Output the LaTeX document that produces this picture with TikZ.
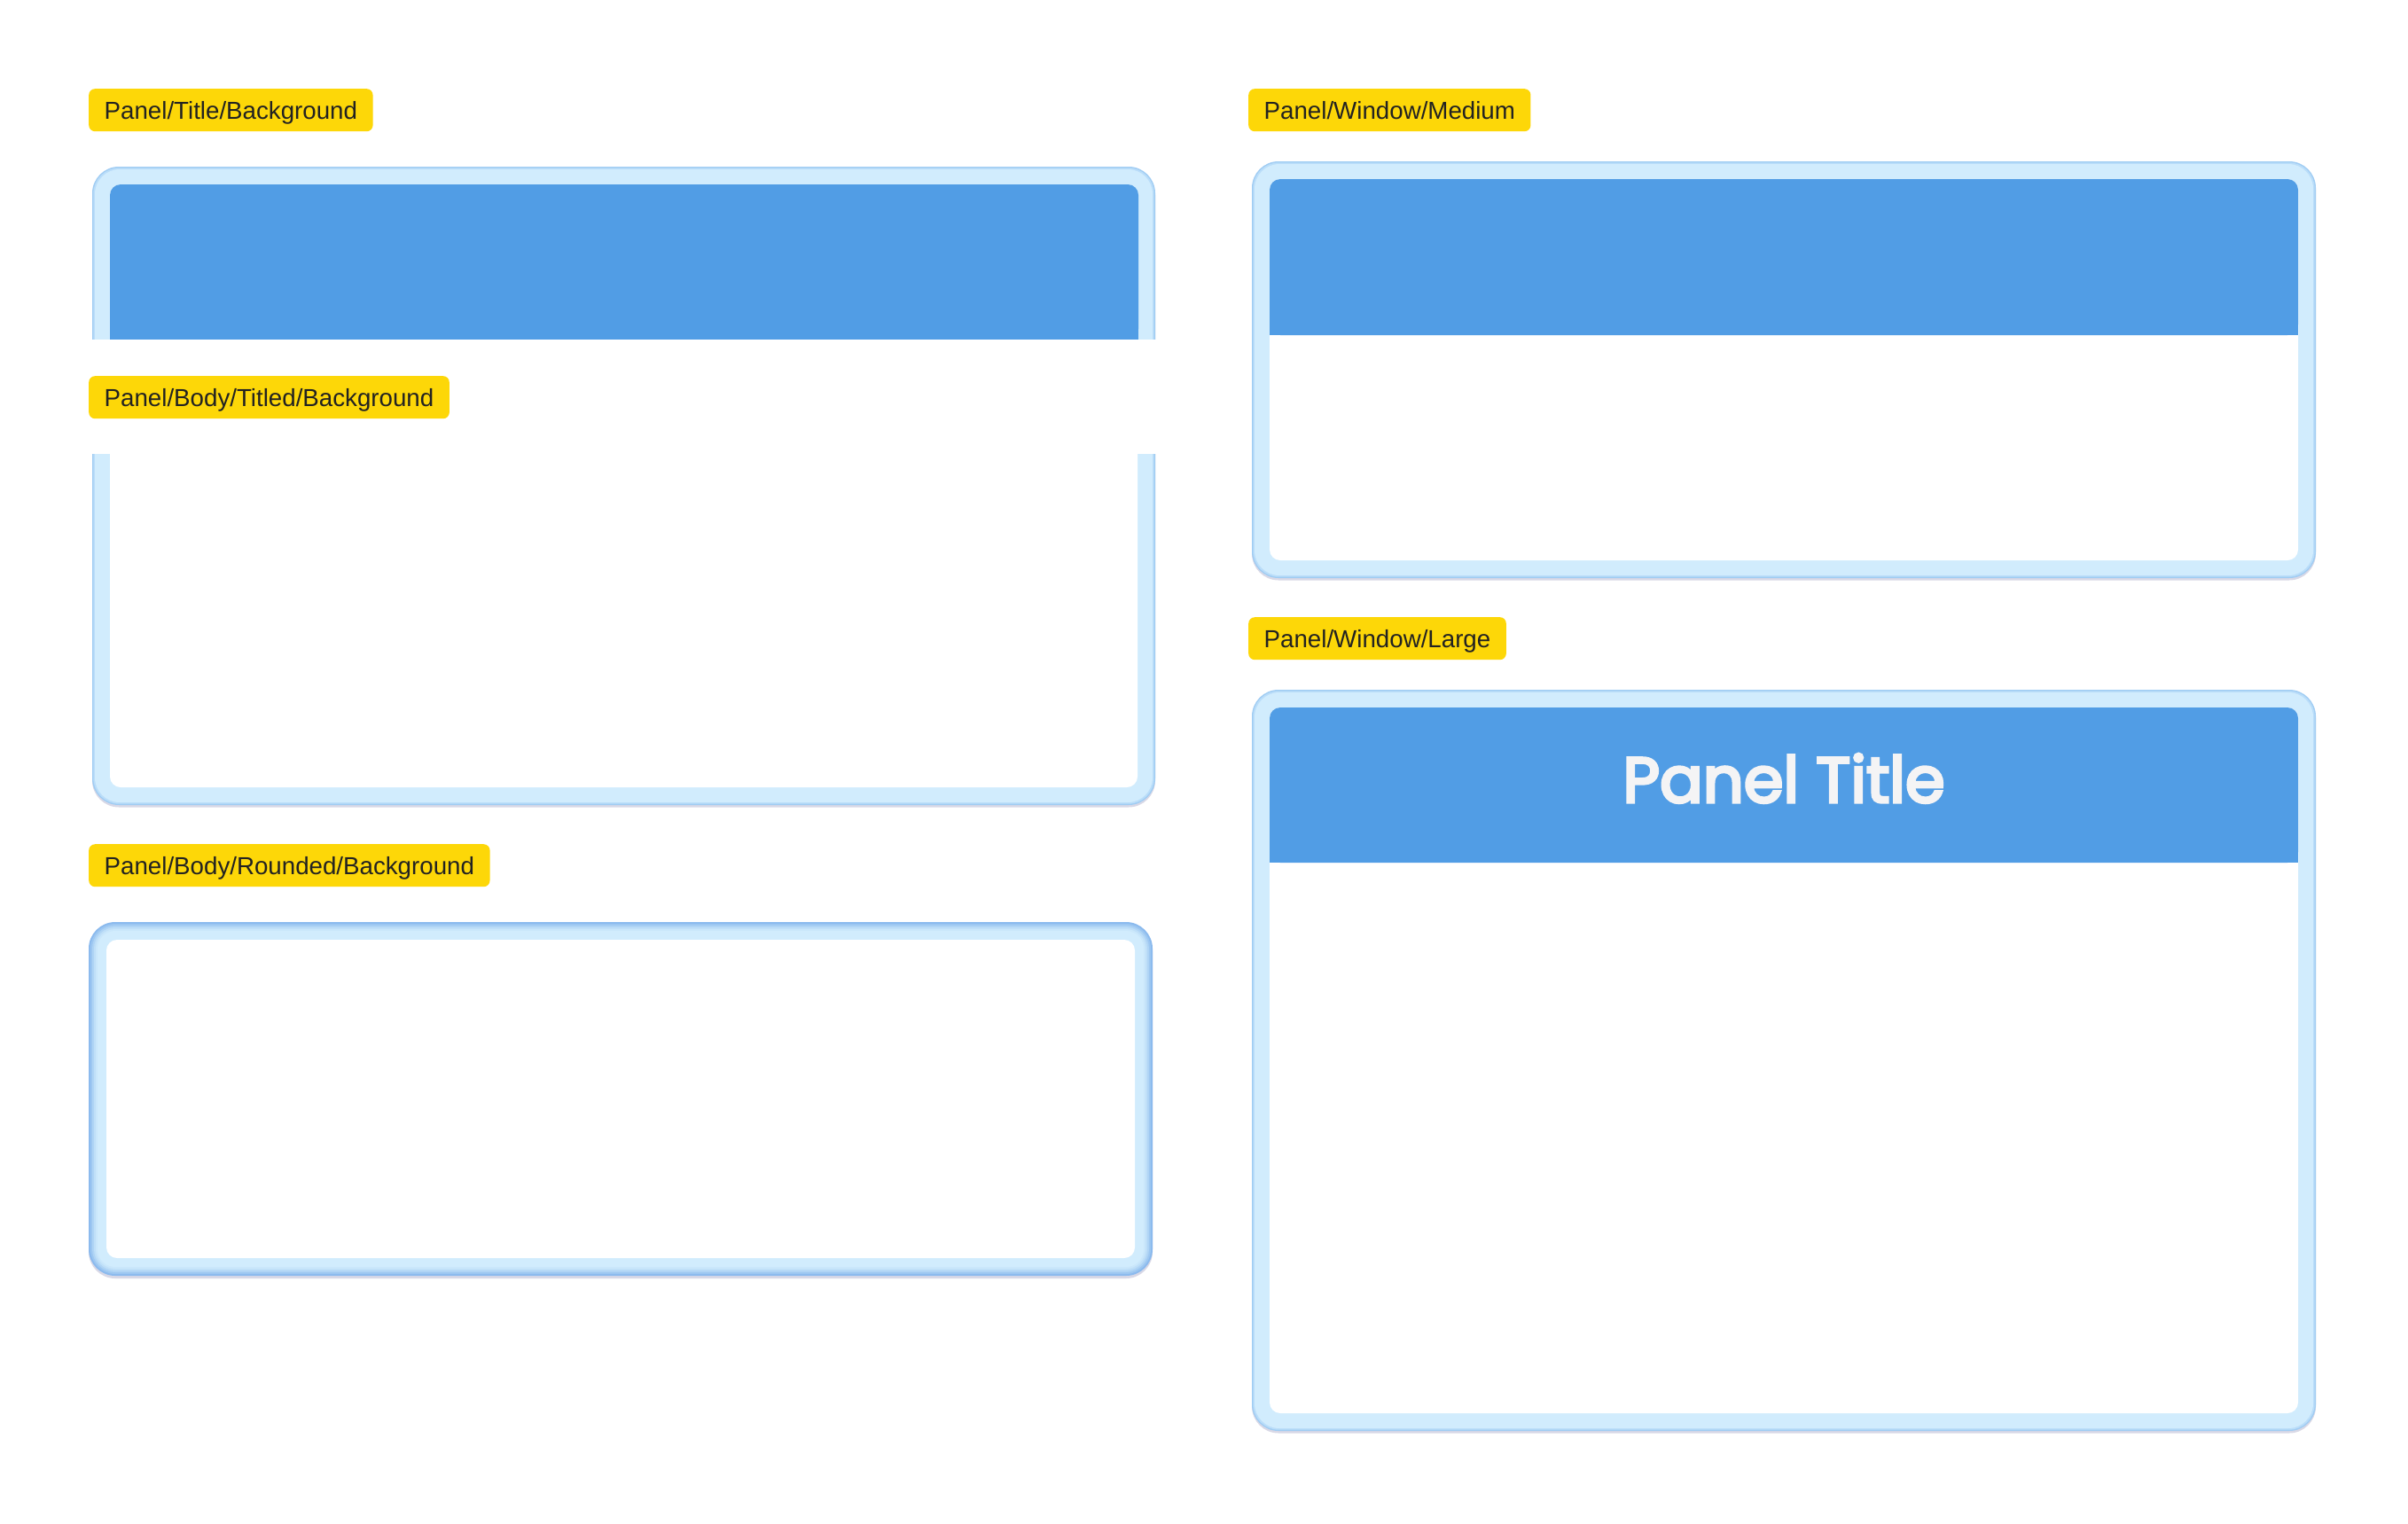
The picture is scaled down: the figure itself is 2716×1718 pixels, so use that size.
\documentclass[tikz,border=0pt]{standalone}
\usepackage{fontspec}
\setmainfont{Liberation Sans}
\newfontfamily\titlefont{Poppins}[FakeBold=4.5]
\definecolor{tagyellow}{HTML}{FDD708}
\definecolor{tagtext}{HTML}{222222}
\definecolor{titleblue}{HTML}{519DE5}
\definecolor{borderc}{HTML}{D1ECFD}
\definecolor{edgec}{HTML}{9FCCF3}
\definecolor{edgemid}{HTML}{BADDF9}
\definecolor{shadowc}{HTML}{D8D8E6}
\definecolor{titletext}{HTML}{F4F4F5}
\definecolor{gA}{HTML}{8BBAEE}
\definecolor{gB}{HTML}{9DC7F1}
\definecolor{gC}{HTML}{AFD4F5}
\definecolor{gD}{HTML}{BFDFF8}
\definecolor{gE}{HTML}{CAE7FB}
\newcommand\panelframe[4]{%
  \fill[shadowc, rounded corners=30pt] (#1,#2+2.5) rectangle (#3,#4+2.5);
  \fill[edgec, rounded corners=30pt] (#1,#2) rectangle (#3,#4);
  \fill[edgemid, rounded corners=29pt] (#1+1.3,#2+1.3) rectangle (#3-1.3,#4-1.3);
  \fill[borderc, rounded corners=28pt] (#1+3,#2+3) rectangle (#3-3,#4-3);
  \fill[white, rounded corners=12pt] (#1+20,#2+20) rectangle (#3-20,#4-20);
}
\newcommand\gradframe[4]{%
  \fill[shadowc, rounded corners=30pt] (#1,#2+3) rectangle (#3,#4+3);
  \fill[gA, rounded corners=30pt] (#1,#2) rectangle (#3,#4);
  \fill[gB, rounded corners=28pt] (#1+2,#2+2) rectangle (#3-2,#4-2);
  \fill[gC, rounded corners=26pt] (#1+4,#2+4) rectangle (#3-4,#4-4);
  \fill[gD, rounded corners=24pt] (#1+6,#2+6) rectangle (#3-6,#4-6);
  \fill[gE, rounded corners=22pt] (#1+8,#2+8) rectangle (#3-8,#4-8);
  \fill[borderc, rounded corners=20pt] (#1+10,#2+10) rectangle (#3-10,#4-10);
  \fill[white, rounded corners=12pt] (#1+20,#2+20) rectangle (#3-20,#4-20);
}
\newcommand\titlestrip[4]{%
  \fill[titleblue, rounded corners=12pt] (#1,#2) rectangle (#3,#4);
  \fill[titleblue] (#1,#4-14) rectangle (#3,#4);
}
\tikzset{
  tag/.style={fill=tagyellow, rounded corners=7pt, anchor=north west,
    inner xsep=17.5pt, inner ysep=14pt, text height=20pt, text depth=0pt,
    font=\fontsize{27.7}{33}\selectfont, text=tagtext},
  paneltitle/.style={anchor=base, text=titletext, inner sep=0pt,
    font=\titlefont\fontsize{72}{80}\selectfont}
}
\begin{document}
\begin{tikzpicture}[x=1pt,y=-1pt]
\useasboundingbox[fill=white] (0,0) rectangle (2716,1718);
% left column: title + titled body
\panelframe{104}{188}{1303}{908}
\titlestrip{124}{208}{1284}{383}
\fill[white] (94,383) rectangle (1314,512);
\node[tag] (tagTitle) at (100,100) {Panel/Title/Background};
\node[tag] (tagTitled) at (100,424) {Panel/Body/Titled/Background};
% rounded body
\node[tag] (tagRounded) at (100,952) {Panel/Body/Rounded/Background};
\gradframe{100}{1040}{1300}{1439}
% right column: medium
\node[tag] (tagMedium) at (1408,100) {Panel/Window/Medium};
\panelframe{1412}{182}{2612}{652}
\titlestrip{1432}{202}{2592}{378}
% right column: large
\node[tag] (tagLarge) at (1408,696) {Panel/Window/Large};
\panelframe{1412}{778}{2612}{1614}
\titlestrip{1432}{798}{2592}{973}
\node[paneltitle] (ptitle) at (2012,905) {Panel Title};
\end{tikzpicture}
\end{document}
